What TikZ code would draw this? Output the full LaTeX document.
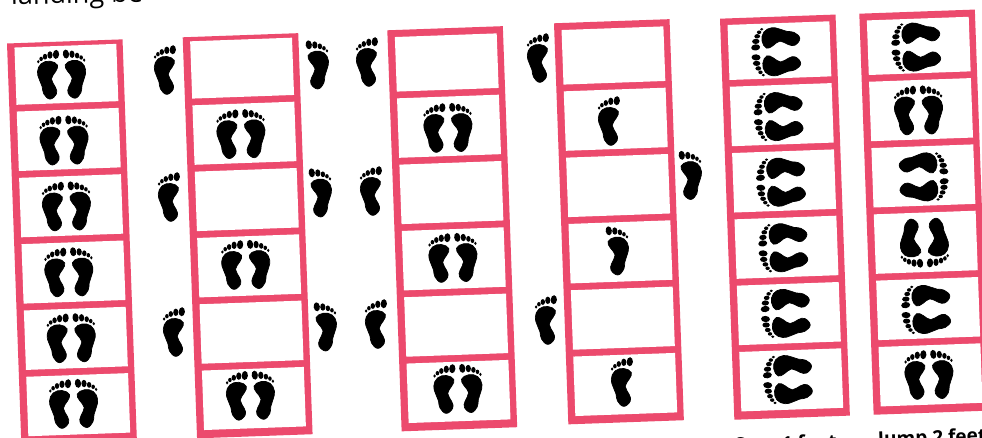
\documentclass[tikz,border=0pt]{standalone}
\usepackage{fontspec}
\setmainfont{Open Sans}
\definecolor{rung}{HTML}{EC4A6D}
\tikzset{
  footink/.style={fill=black,draw=black,line width=0.7pt,line join=round},
  toeink/.style={fill=black,draw=none},
  cellwhite/.style={fill=white,draw=none},
  framepink/.style={fill=rung,draw=none},
  captionbold/.style={font=\bfseries\fontsize{19}{21}\selectfont,anchor=base west,inner sep=0pt,rotate=2},
  captiontop/.style={font=\fontsize{27}{30}\selectfont,anchor=base west,inner sep=0pt,rotate=1.2}
}
% one foot, big toe towards +x, seen upright, about the pair's centre
\newcommand{\footshape}{%
  \begin{scope}[rotate=-2]
  \path[footink] plot[smooth cycle,tension=0.72] coordinates{(-4.2,-9.5)(-11.7,-13.5)(-20.5,-11)(-24.2,-3)(-22.5,4.5)(-19.5,12)(-18,19)(-11.7,24.4)(-5.2,19)(-6.3,12.5)(-10.3,4.3)(-6.2,-3)};
  \fill[toeink,rotate around={-4:(-5.7,-20.3)}] (-5.7,-20.3) ellipse[x radius=3.1,y radius=4.5];
  \fill[toeink] (-11.7,-19.7) ellipse[x radius=2.6,y radius=3.7];
  \fill[toeink] (-16.7,-18) ellipse[x radius=2.2,y radius=2.9];
  \fill[toeink] (-20.6,-15.8) ellipse[x radius=1.8,y radius=2.2];
  \fill[toeink] (-23.4,-13) ellipse[x radius=1.3,y radius=1.7];
  \end{scope}}
\newcommand{\feetpair}[3]{% x y rotation
  \begin{scope}[shift={(#1,#2)},rotate=#3]
    \begin{scope}\footshape\end{scope}
    \begin{scope}[xscale=-1]\footshape\end{scope}
  \end{scope}}
\newcommand{\footleft}[2]{%
  \begin{scope}[shift={(#1,#2)}]\begin{scope}[shift={(13.5,0)},rotate=2]\footshape\end{scope}\end{scope}}
\newcommand{\footright}[2]{%
  \begin{scope}[shift={(#1,#2)}]\begin{scope}[rotate=2,shift={(-13.5,0)},xscale=-1]\footshape\end{scope}\end{scope}}
\newcommand{\ladder}[4]{% x y angle top-rung
  \begin{scope}[shift={(#1,#2)},rotate=#3]
    \fill[framepink] (0,0) rectangle (115.6,401.3);
    \fill[cellwhite] (7.3,#4) rectangle (109.2,61.6);
    \foreach \k in {1,...,5}{
      \fill[cellwhite] (7.3,{2+\k*66.35}) rectangle (109.2,{2+\k*66.35+59.5});
    }
  \end{scope}}
\begin{document}
\begin{tikzpicture}[x=1pt,y=-1pt]
\useasboundingbox (0,0) rectangle (982,438);
\fill[white] (0,0) rectangle (982,438);
\clip (0,0) rectangle (982,438);
\node[captiontop] (toptext) at (11,4.6) {landing be};
\ladder{7}{43.5}{2.05}{4.3}
\ladder{182.7}{37.3}{2.05}{4.3}
\ladder{387.3}{30.3}{2.05}{7}
\ladder{554}{23.3}{2.05}{7}
\ladder{720}{18.7}{2.05}{6.5}
\ladder{859.3}{13.7}{2.05}{7}
% ladder 1
\feetpair{61.7}{74.7}{2}\feetpair{64.1}{140.6}{2}\feetpair{66.5}{206.5}{2}
\feetpair{68.9}{272.4}{2}\feetpair{71.3}{338.3}{2}\feetpair{73.7}{404}{2}
% ladder 2
\feetpair{241}{134.2}{2}\feetpair{245.8}{265}{2}\feetpair{250.5}{395.8}{2}
\footleft{165}{70}\footright{318}{65}
\footleft{169}{197}\footright{321}{193}
\footleft{174}{332}\footright{326}{327}
% ladder 3
\feetpair{448}{128}{2}\feetpair{453}{258}{2}\feetpair{458}{389}{2}
\footleft{367}{62}\footleft{371}{191}\footleft{376}{324}
% ladder 4
\footleft{609}{121}\footright{618}{251}\footleft{622}{382}
\footleft{538}{58}\footright{691}{175.5}\footleft{546}{320}
% ladder 5
\feetpair{776.3}{51.7}{92}\feetpair{778.7}{116.5}{92}\feetpair{781.1}{182.1}{92}
\feetpair{783.4}{247.7}{92}\feetpair{785.8}{313.3}{92}\feetpair{788}{379.5}{92}
% ladder 6
\feetpair{916.3}{47}{92}\feetpair{918.6}{110.5}{2}\feetpair{923.5}{177}{-88}
\feetpair{924.3}{242.6}{182}\feetpair{926.3}{309.4}{92}\feetpair{929}{375}{2}
\node[captionbold] (stepcaption) at (735,452) {Step 1 foot};
\node[captionbold] (jumpcaption) at (878,446) {Jump 2 feet};
\end{tikzpicture}
\end{document}
